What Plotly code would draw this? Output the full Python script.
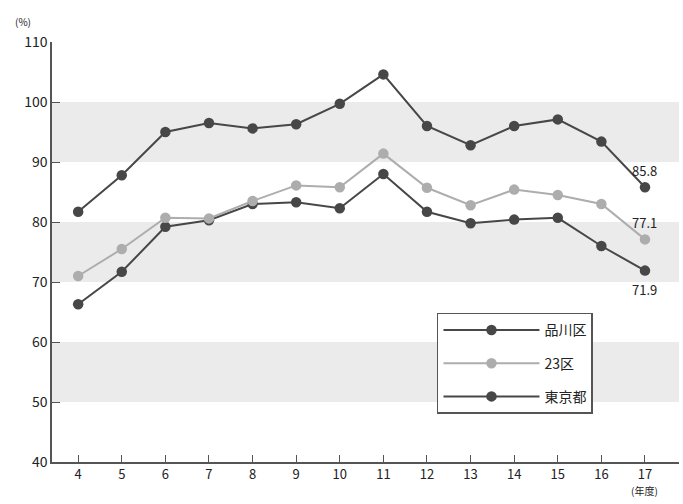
import plotly.graph_objects as go

years = [4, 5, 6, 7, 8, 9, 10, 11, 12, 13, 14, 15, 16, 17]
shinagawa = [66.3, 71.7, 79.2, 80.3, 83.0, 83.3, 82.3, 88.0, 81.7, 79.8, 80.4, 80.7, 76.0, 71.9]
ku23 = [71.0, 75.5, 80.7, 80.6, 83.5, 86.1, 85.8, 91.4, 85.7, 82.8, 85.4, 84.5, 83.0, 77.1]
tokyo = [81.7, 87.8, 95.0, 96.5, 95.6, 96.3, 99.7, 104.6, 96.0, 92.8, 96.0, 97.1, 93.4, 85.8]
bands = [(50, 60), (70, 80), (90, 100)]
y_ticks = [40, 50, 60, 70, 80, 90, 100, 110]

dark = "#474747"
light = "#adadad"
font_family = "Noto Sans CJK JP, Liberation Sans, Arial"

fig = go.Figure()
fig.add_trace(go.Scatter(x=years, y=shinagawa, name="品川区", mode="lines+markers", legendgroup="a",
                         line=dict(color=dark, width=2), marker=dict(color=dark, size=10.5)))
fig.add_trace(go.Scatter(x=years, y=ku23, name="23区", mode="lines+markers", legendgroup="b",
                         line=dict(color=light, width=2), marker=dict(color=light, size=10.5)))
fig.add_trace(go.Scatter(x=years, y=tokyo, name="東京都", mode="lines+markers", legendgroup="c",
                         line=dict(color=dark, width=2), marker=dict(color=dark, size=10.5)))

for lo, hi in bands:
    fig.add_shape(type="rect", xref="paper", yref="y", x0=0, x1=1, y0=lo, y1=hi,
                  fillcolor="#ebebeb", line=dict(width=0), layer="below")

fig.add_annotation(x=years[-1], y=tokyo[-1], text=f"{tokyo[-1]}", showarrow=False,
                   yshift=17, font=dict(size=13, color="#222"))
fig.add_annotation(x=years[-1], y=ku23[-1], text=f"{ku23[-1]}", showarrow=False,
                   yshift=17, font=dict(size=13, color="#222"))
fig.add_annotation(x=years[-1], y=shinagawa[-1], text=f"{shinagawa[-1]}", showarrow=False,
                   yshift=-19, font=dict(size=13, color="#222"))
fig.add_annotation(xref="paper", yref="paper", x=-0.03, y=1.0, yshift=30, text="(%)",
                   showarrow=False, xanchor="right", font=dict(size=10, color="#222"))
fig.add_annotation(xref="x", yref="paper", x=years[-1], y=0, yshift=-38, text="(年度)",
                   showarrow=False, font=dict(size=10, color="#222"))

fig.update_layout(
    width=683, height=504,
    margin=dict(l=52, r=4, t=42, b=42),
    paper_bgcolor="white", plot_bgcolor="white",
    font=dict(family=font_family, size=12, color="#222"),
    showlegend=True,
    legend=dict(x=0.614, y=0.355, xanchor="left", yanchor="top",
                bordercolor="#555", borderwidth=1.5, bgcolor="white",
                font=dict(size=14, color="#222"), itemwidth=96,
                tracegroupgap=12, traceorder="grouped"),
    xaxis=dict(range=[3.4, 17.78], tickvals=years, ticks="inside", ticklen=7,
               tickcolor="#555", showline=True, linecolor="#555", linewidth=1.5,
               showgrid=False, zeroline=False, tickfont=dict(size=13)),
    yaxis=dict(range=[40, 110], tickvals=y_ticks, ticks="inside", ticklen=8,
               tickcolor="#555", showline=True, linecolor="#555", linewidth=1.5,
               showgrid=False, zeroline=False, tickfont=dict(size=14)),
)

fig.write_html("out.html")
